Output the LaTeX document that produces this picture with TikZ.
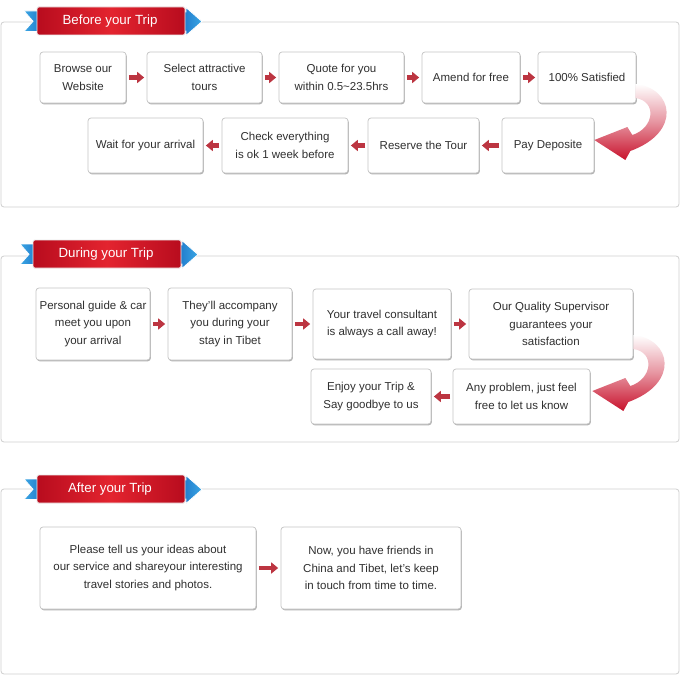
\documentclass[tikz,border=0pt]{standalone}
\usepackage{fontspec}
\setmainfont{Liberation Sans}
\usetikzlibrary{shadows,arrows.meta,calc}
\definecolor{txt}{HTML}{303030}
\definecolor{boxline}{HTML}{C4C4C4}
\definecolor{panelline}{HTML}{CFCFCF}
\definecolor{arr}{HTML}{BC3541}
\definecolor{bigred}{HTML}{C8122C}
\definecolor{banred}{HTML}{E3242F}
\definecolor{bandark}{HTML}{B80C1E}
\definecolor{blueA}{HTML}{1262BE}
\definecolor{blueB}{HTML}{3AA6E4}
\tikzset{
  panel/.style={draw=panelline, fill=white, rounded corners=3pt, line width=0.8pt},
  stepbox/.style={draw=boxline, fill=white, rounded corners=3pt, line width=0.7pt,
    inner sep=0pt, align=center, text=txt,
    font=\fontsize{11.5}{17.5}\selectfont,
    drop shadow={shadow xshift=0.8pt, shadow yshift=-1.3pt, fill=black!55, opacity=0.55}},
  sarrow/.style={draw=arr, line width=4.8pt, -{Triangle[length=7pt,width=11pt]},
    shorten <=2.5pt, shorten >=2.5pt},
  bantext/.style={text=white, font=\fontsize{13.3}{16}\selectfont, inner sep=0pt},
  bigcurve/.style={top color=white, bottom color=bigred, middle color=bigred!45!white, draw=none}
}
\newcommand\ribbon[4]{% #1 x, #2 y, #3 name, #4 text
  \begin{scope}[shift={(#1,#2)}]
    \path[left color=blueB, right color=blueA, draw=white, line width=0.8pt]
      (-13,-10) -- (14,-10) -- (14,10.5) -- (-13,10.5) -- (-4,0.3) -- cycle;
    \path[left color=blueA, right color=blueB, draw=white, line width=0.8pt]
      (136,-9) -- (149,-9) -- (149,-13.5) -- (165,0.5) -- (149,14.5) -- (149,10) -- (136,10) -- cycle;
    \path[left color=bandark, right color=bandark, middle color=banred, draw=white!92!black, line width=0.8pt, rounded corners=1.5pt]
      (0,-14) rectangle (148,14);
    \node[bantext] (#3) at (73,0.5) {#4};
  \end{scope}}
\newcommand\curvearrow{%
  \path[bigcurve] (0,0) .. controls (38,4) and (47,48) .. (-5,67)
    -- (-10,76) -- (-41,56) -- (-8,43) -- (-3,51)
    .. controls (19,44) and (22,17) .. (0,14) -- cycle;}
\begin{document}
\begin{tikzpicture}[x=1pt,y=-1pt]
\path[use as bounding box, fill=white] (0,0) rectangle (680,677);
% panels
\path[panel] (1,22) rectangle (679,207);
\path[panel] (1,256) rectangle (679,442);
\path[panel] (1,489) rectangle (679,674);
% ribbons
\ribbon{37}{21}{h1}{Before your Trip}
\ribbon{33}{254}{h2}{During your Trip}
\ribbon{37}{489}{h3}{After your Trip}
% section 1
\node[stepbox, minimum width=86pt, minimum height=51pt] (a1) at (83,77.5) {Browse our\\Website};
\node[stepbox, minimum width=115pt, minimum height=51pt] (a2) at (204.5,77.5) {Select attractive\\tours};
\node[stepbox, minimum width=125pt, minimum height=51pt] (a3) at (341.5,77.5) {Quote for you\\within 0.5\textasciitilde23.5hrs};
\node[stepbox, minimum width=98pt, minimum height=51pt] (a4) at (471,77.5) {Amend for free};
\node[stepbox, minimum width=98pt, minimum height=51pt] (a5) at (587,77.5) {100\% Satisfied};
\node[stepbox, minimum width=115pt, minimum height=55pt] (c1) at (145.5,145.5) {Wait for your arrival};
\node[stepbox, minimum width=126pt, minimum height=55pt] (c2) at (285,145.5) {Check everything\\is ok 1 week before};
\node[stepbox, minimum width=111pt, minimum height=55pt] (c3) at (423.5,145.5) {Reserve the Tour};
\node[stepbox, minimum width=92pt, minimum height=55pt] (c4) at (548,145.5) {Pay Deposite};
\draw[sarrow] (a1.east) -- (a2.west);
\draw[sarrow] (a2.east) -- (a3.west);
\draw[sarrow] (a3.east) -- (a4.west);
\draw[sarrow] (a4.east) -- (a5.west);
\draw[sarrow] (c4.west) -- (c3.east);
\draw[sarrow] (c3.west) -- (c2.east);
\draw[sarrow] (c2.west) -- (c1.east);
\begin{scope}[shift={($(a5.east)+(-1,6.5)$)}]\curvearrow\end{scope}
% section 2
\node[stepbox, minimum width=114pt, minimum height=72pt] (p1) at (93,324) {Personal guide \& car\\meet you upon\\your arrival};
\node[stepbox, minimum width=124pt, minimum height=72pt] (p2) at (230,324) {They'll accompany\\you during your\\stay in Tibet};
\node[stepbox, minimum width=138pt, minimum height=70pt] (p3) at (382,324) {Your travel consultant\\is always a call away!};
\node[stepbox, minimum width=164pt, minimum height=70pt] (p4) at (551,324) {Our Quality Supervisor\\guarantees your\\satisfaction};
\node[stepbox, minimum width=120pt, minimum height=55pt] (q1) at (371,396.5) {Enjoy your Trip \&\\Say goodbye to us};
\node[stepbox, minimum width=137pt, minimum height=55pt] (q2) at (521.5,396.5) {Any problem, just feel\\free to let us know};
\draw[sarrow] (p1.east) -- (p2.west);
\draw[sarrow] (p2.east) -- (p3.west);
\draw[sarrow] (p3.east) -- (p4.west);
\draw[sarrow] (q2.west) -- (q1.east);
\begin{scope}[shift={($(p4.east)+(0,11)$)}]\curvearrow\end{scope}
% section 3
\node[stepbox, minimum width=216pt, minimum height=82pt] (r1) at (148,568) {Please tell us your ideas about\\our service and shareyour interesting\\travel stories and photos.};
\node[stepbox, minimum width=180pt, minimum height=82pt] (r2) at (371,568) {Now, you have friends in\\China and Tibet, let's keep\\in touch from time to time.};
\draw[sarrow] (r1.east) -- (r2.west);
\end{tikzpicture}
\end{document}
